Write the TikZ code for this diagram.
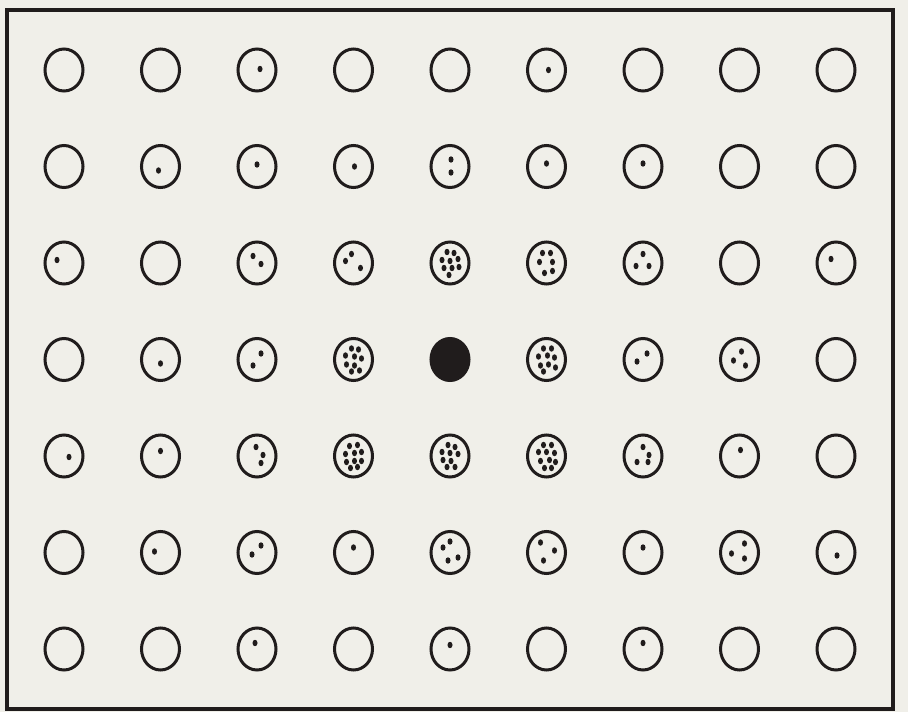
\documentclass[tikz,border=0pt]{standalone}
\usepackage{tikz}
\usetikzlibrary{shapes.geometric}
\definecolor{paper}{RGB}{240,239,233}
\definecolor{ink}{RGB}{32,28,28}
\tikzset{
  cell/.style={ellipse,draw=ink,line width=3pt,
    minimum width=38pt,minimum height=42pt,inner sep=0pt},
  spot/.style={fill=ink},
  frame/.style={draw=ink,line width=3.4pt}
}
\newcommand{\cellspots}[2]{\foreach \p in {#2}{\fill[spot] (#1) ++(\p) ellipse (2.5 and 3.2);}}

\begin{document}
\begin{tikzpicture}[x=1pt,y=-1pt]
  \fill[paper] (0,0) rectangle (908,712);
  \draw[frame] (7,10) rectangle (893,709);

  % 9 x 7 grid of cells
  \foreach \r in {1,...,7}{
    \foreach \c in {1,...,9}{
      \node[cell] (c\r-\c) at ({64+96.5*(\c-1)},{70+96.5*(\r-1)}) {};
    }
  }

  % row 1
  \cellspots{c1-3}{{3,-1}}
  \cellspots{c1-6}{{2,0}}
  % row 2
  \cellspots{c2-2}{{-2,4}}
  \cellspots{c2-3}{{0,-2}}
  \cellspots{c2-4}{{1,0}}
  \cellspots{c2-5}{{1,-7},{1,6}}
  \cellspots{c2-6}{{0,-3}}
  \cellspots{c2-7}{{0,-3}}
  % row 3
  \cellspots{c3-1}{{-7,-3}}
  \cellspots{c3-3}{{-4,-7},{4,1}}
  \cellspots{c3-4}{{-2,-9},{-8,-2},{7,5}}
  \cellspots{c3-5}{{-3,-11},{4,-10},{-8,-3},{0,-2},{8,-4},{-6,5},{2,5},{9,4},{-1,12}}
  \cellspots{c3-6}{{-4,-10},{4,-10},{-7,-1},{6,-1},{-2,10},{6,8}}
  \cellspots{c3-7}{{0,-9},{-7,3},{6,3}}
  \cellspots{c3-9}{{-5,-4}}
  % row 4
  \cellspots{c4-2}{{0,4}}
  \cellspots{c4-3}{{4,-6},{-4,6}}
  \cellspots{c4-4}{{-2,-11},{5,-10},{-8,-4},{1,-3},{8,-1},{-7,5},{1,6},{-2,12},{6,11}}
  \fill[ink] (c4-5) ellipse (20 and 22);
  \cellspots{c4-6}{{-3,-11},{5,-11},{-8,-3},{1,-4},{8,-2},{-6,6},{2,5},{9,8},{-3,12}}
  \cellspots{c4-7}{{4,-6},{-6,2}}
  \cellspots{c4-8}{{2,-8},{-6,1},{6,6}}
  % row 5
  \cellspots{c5-1}{{5,1}}
  \cellspots{c5-2}{{0,-5}}
  \cellspots{c5-3}{{-1,-9},{6,-1},{4,7}}
  \cellspots{c5-4}{{-4,-10},{4,-11},{-8,-2},{1,-3},{8,-4},{-7,6},{1,5},{8,5},{-3,12},{4,11}}
  \cellspots{c5-5}{{-2,-11},{5,-9},{-8,-4},{0,-3},{8,-2},{-7,4},{1,5},{-3,11},{5,11}}
  \cellspots{c5-6}{{-3,-11},{5,-11},{-8,-4},{0,-4},{8,-3},{-6,5},{3,4},{9,6},{-2,12},{5,12}}
  \cellspots{c5-7}{{0,-9},{6,-1},{-6,6},{5,6}}
  \cellspots{c5-8}{{1,-6}}
  % row 6
  \cellspots{c6-2}{{-6,-1}}
  \cellspots{c6-3}{{4,-7},{-5,2}}
  \cellspots{c6-4}{{0,-5}}
  \cellspots{c6-5}{{0,-11},{-7,-5},{-2,8},{8,5}}
  \cellspots{c6-6}{{-6,-10},{8,-2},{-3,8}}
  \cellspots{c6-7}{{0,-5}}
  \cellspots{c6-8}{{5,-9},{-8,1},{5,6}}
  \cellspots{c6-9}{{1,3}}
  % row 7
  \cellspots{c7-3}{{-2,-6}}
  \cellspots{c7-5}{{0,-4}}
  \cellspots{c7-7}{{0,-6}}
\end{tikzpicture}
\end{document}
